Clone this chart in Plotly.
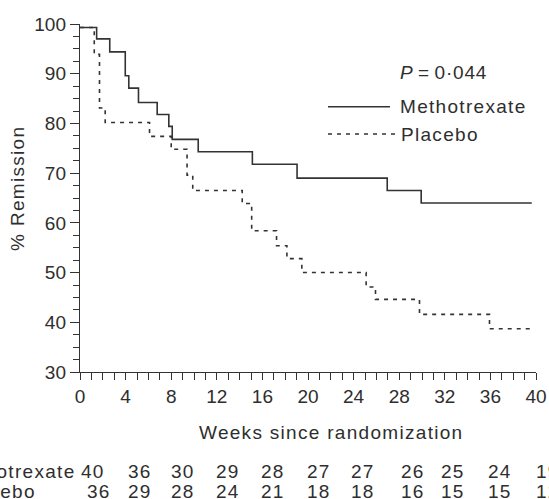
import plotly.graph_objects as go

# Kaplan-Meier step data (weeks, % remission)
mtx_weeks = [0, 1.46, 2.61, 3.97, 4.28, 5.13, 6.77, 7.79, 8.09, 10.37, 15.12, 19.04, 26.95, 29.93, 39.63]
mtx_surv = [99.3, 97.0, 94.4, 89.6, 87.1, 84.2, 81.8, 79.4, 76.8, 74.3, 71.8, 69.0, 66.5, 64.0, 64.0]

pla_weeks = [0, 1.25, 1.71, 2.21, 6.10, 8.00, 9.39, 9.89, 14.23, 15.06, 17.24, 18.15, 19.46, 25.10, 25.92, 29.78, 35.92, 39.72]
pla_surv = [99.3, 93.9, 83.1, 80.2, 77.4, 74.8, 69.6, 66.5, 63.9, 58.4, 55.4, 52.8, 50.0, 47.1, 44.6, 41.6, 38.7, 38.7]

# numbers at risk (column positions in weeks)
risk_pos_mtx = [1.18, 5.24, 9.02, 13.0, 16.94, 20.96, 24.83, 29.19, 32.73, 36.82, 41.04]
risk_pos_pla = [1.64, 5.24, 9.02, 13.0, 16.94, 20.96, 24.83, 29.19, 32.73, 36.82, 41.04]
risk_mtx = [40, 36, 30, 29, 28, 27, 27, 26, 25, 24, 19]
risk_pla = [36, 29, 28, 24, 21, 18, 18, 16, 15, 15, 12]

x_ticks = list(range(0, 41, 4))
y_ticks = list(range(30, 101, 10))
X_MAX = 40

FONT = "Liberation Sans, Arial, Helvetica, sans-serif"
TXT = "#2e2e2e"
LINE = "#333333"
LS = "letter-spacing:1.3px"

fig = go.Figure()
fig.add_trace(go.Scatter(x=mtx_weeks, y=mtx_surv, mode="lines", line_shape="hv",
                         line=dict(color=LINE, width=1.6), showlegend=False, cliponaxis=False))
fig.add_trace(go.Scatter(x=pla_weeks, y=pla_surv, mode="lines", line_shape="hv",
                         line=dict(color=LINE, width=1.6, dash="4px,5px"), showlegend=False, cliponaxis=False))

ann = []
# legend texts
ann.append(dict(x=0.6974, y=0.860, xref="paper", yref="paper", xanchor="left", yanchor="middle",
                text=f'<span style="letter-spacing:0.8px"><i>P</i>\u2009=\u20090·044</span>', showarrow=False))
ann.append(dict(x=0.6974, y=0.7624, xref="paper", yref="paper", xanchor="left", yanchor="middle",
                text=f'<span style="{LS}">Methotrexate</span>', showarrow=False))
ann.append(dict(x=0.6996, y=0.6839, xref="paper", yref="paper", xanchor="left", yanchor="middle",
                text=f'<span style="{LS}">Placebo</span>', showarrow=False))
# axis titles
ann.append(dict(x=-0.136, y=0.529, xref="paper", yref="paper", xanchor="center", yanchor="middle",
                textangle=-90, text=f'<span style="{LS}">% Remission</span>', showarrow=False))
ann.append(dict(x=0.5504, y=-0.175, xref="paper", yref="paper", xanchor="center", yanchor="middle",
                text=f'<span style="{LS}">Weeks since randomization</span>', showarrow=False))
# at-risk table
ann.append(dict(x=-0.0044, y=-0.2865, xref="paper", yref="paper", xanchor="right", yanchor="middle",
                text=f'<span style="{LS}">Methotrexate</span>', showarrow=False))
ann.append(dict(x=-0.272, y=-0.342, xref="paper", yref="paper", xanchor="left", yanchor="middle",
                text=f'<span style="{LS}">Placebo</span>', showarrow=False))
for xp, v in zip(risk_pos_mtx, risk_mtx):
    ann.append(dict(x=xp / X_MAX, y=-0.2865, xref="paper", yref="paper", xanchor="center", yanchor="middle",
                    text=f'<span style="{LS}">{v}</span>', showarrow=False))
for xp, v in zip(risk_pos_pla, risk_pla):
    ann.append(dict(x=xp / X_MAX, y=-0.342, xref="paper", yref="paper", xanchor="center", yanchor="middle",
                    text=f'<span style="{LS}">{v}</span>', showarrow=False))

shapes = [
    dict(type="line", xref="paper", yref="paper", x0=0.5439, x1=0.6798, y0=0.7624, y1=0.7624,
         line=dict(color=LINE, width=1.6)),
    dict(type="line", xref="paper", yref="paper", x0=0.5439, x1=0.6908, y0=0.6839, y1=0.6839,
         line=dict(color=LINE, width=1.6, dash="4px,5px")),
]

fig.update_layout(
    width=549, height=499,
    margin=dict(l=80, r=13, t=24, b=127, autoexpand=False),
    paper_bgcolor="white", plot_bgcolor="white",
    font=dict(family=FONT, size=19, color=TXT),
    annotations=ann, shapes=shapes,
    xaxis=dict(range=[0, X_MAX], tickvals=x_ticks, ticktext=[str(t) for t in x_ticks],
               automargin=False,
               ticks="outside", ticklen=7, tickwidth=1.2, tickcolor=LINE,
               showline=True, linecolor=LINE, linewidth=1.4, showgrid=False, zeroline=False,
               minor=dict(dtick=1, ticks="outside", ticklen=7, tickwidth=1.2, tickcolor=LINE, showgrid=False),
               tickfont=dict(family=FONT, size=19, color=TXT)),
    yaxis=dict(range=[30, 100], tickvals=y_ticks, ticktext=[str(t) for t in y_ticks],
               automargin=False,
               ticks="outside", ticklen=9, tickwidth=1.2, tickcolor=LINE,
               showline=True, linecolor=LINE, linewidth=1.4, showgrid=False, zeroline=False,
               minor=dict(dtick=2.5, ticks="outside", ticklen=6, tickwidth=1.2, tickcolor=LINE, showgrid=False),
               tickfont=dict(family=FONT, size=19, color=TXT)),
)

fig.write_html("out.html")
